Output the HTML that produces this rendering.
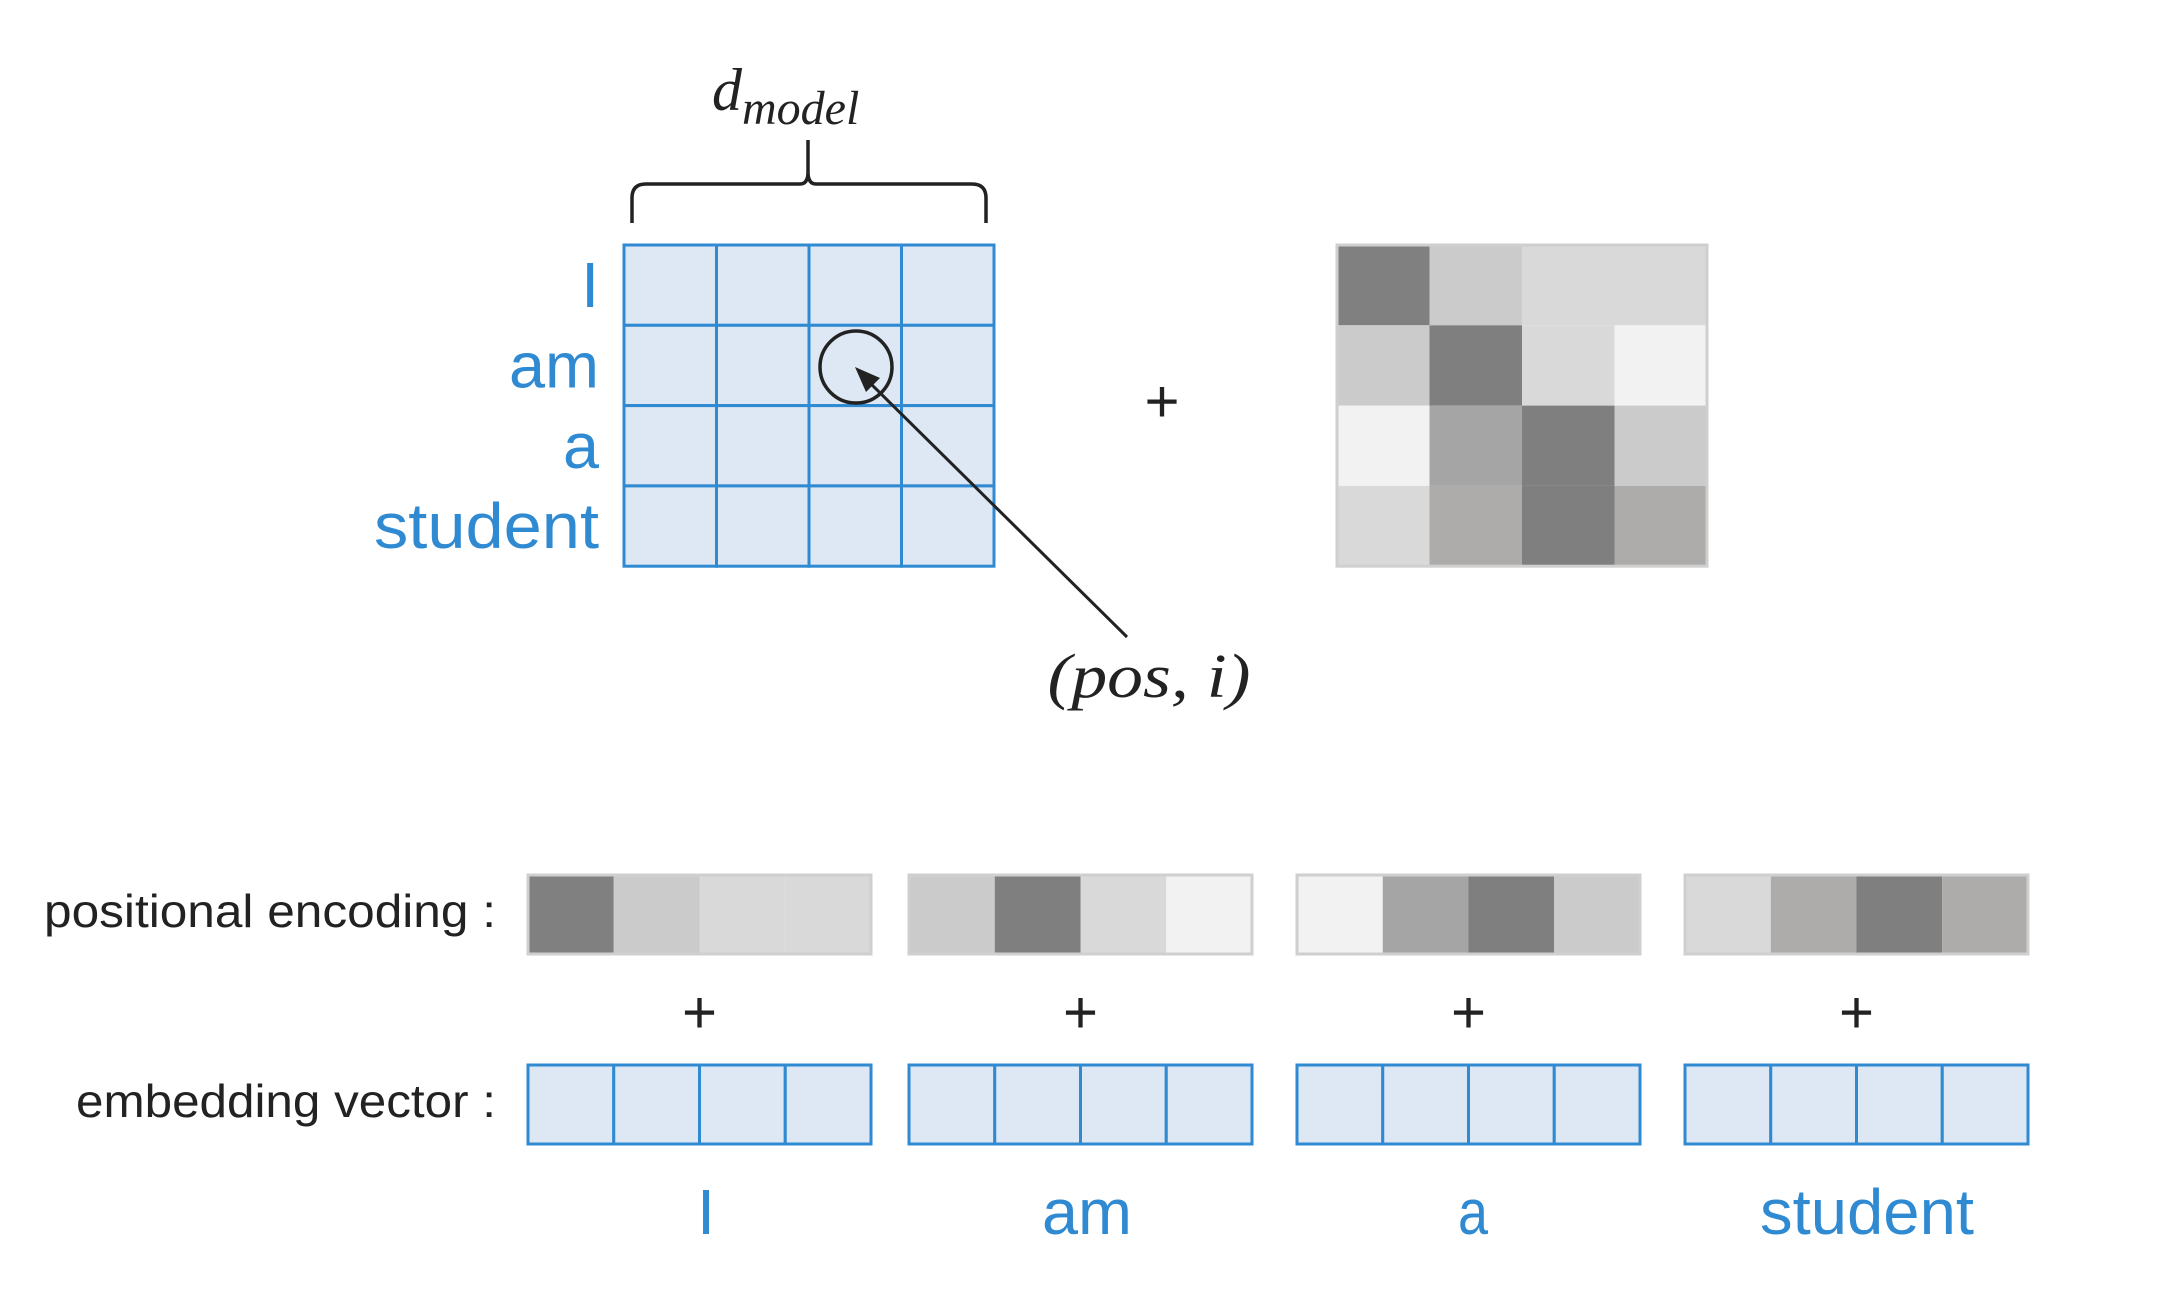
<!DOCTYPE html>
<html><head><meta charset="utf-8"><style>html,body{margin:0;padding:0;background:#fff}svg{display:block}</style></head>
<body>
<svg id="fig" width="2159" height="1296" viewBox="0 0 2159 1296" xmlns="http://www.w3.org/2000/svg">
<rect width="2159" height="1296" fill="#fff"/>
<g id="topSection"></g>
<g id="bottomSection"></g>
</svg>
<script>
const words = ["I","am","a","student"];
const peRow0 = ["#808080","#cccbcc","#d9d9d9","#d9d9d9"];
const peRow1 = ["#cccbcc","#7f7f7f","#d9d9d9","#f2f2f2"];
const peRow2 = ["#f2f2f2","#a5a5a5","#7f7f7f","#cccbcc"];
const peRow3 = ["#d9d9d9","#aeabab","#7f7f7f","#aeabab"];
const peRows = [peRow0, peRow1, peRow2, peRow3];

const NS="http://www.w3.org/2000/svg";
const blue="#2f8ad2", fillC="#dde8f4";
function mk(tag, attrs, parent){const e=document.createElementNS(NS,tag);for(const k in attrs)e.setAttribute(k,attrs[k]);parent.appendChild(e);return e;}
const topG=document.getElementById('topSection'), botG=document.getElementById('bottomSection');

let t=mk('text',{x:712,y:110,'font-family':'Liberation Serif, serif','font-style':'italic','font-size':60,fill:'#222'},topG);


t.innerHTML='d<tspan font-size="48" dy="14">model</tspan>';
let br=mk('path',{d:'M632,223 L632,198 Q632,184 646,184 L800,184 Q808,184 808,172 L808,140 M808,172 Q808,184 816,184 L972,184 Q986,184 986,198 L986,223',fill:'none',stroke:'#222','stroke-width':3.5},topG);



const gx=624, gy=245, cw=92.5, ch=80.3;
const labelW=[0,90,36,225];
words.forEach((w,r)=>{
  for(let c=0;c<4;c++){
    const cell=mk('rect',{x:gx+c*cw,y:gy+r*ch,width:cw,height:ch,fill:fillC,stroke:blue,'stroke-width':3},topG);
    
    
  }
  const at={x:599,y:gy+r*ch+ch/2+22,'text-anchor':'end','font-family':'Liberation Sans, sans-serif','font-size':64,fill:blue};
  if(labelW[r]>0){at.textLength=labelW[r];at.lengthAdjust='spacingAndGlyphs';}
  const lb=mk('text',at,topG);
  
  
  lb.textContent=w;
});
const px=1337;
peRows.forEach((row,r)=>row.forEach((col,c)=>{
  const cell=mk('rect',{x:px+c*cw,y:gy+r*ch,width:cw,height:ch,fill:col},topG);
  
  
}));
let pb=mk('rect',{x:px,y:gy,width:cw*4,height:ch*4,fill:'none',stroke:'#cfcfcf','stroke-width':3},topG);


let pl=mk('text',{x:1162,y:422,'text-anchor':'middle','font-family':'Liberation Sans, sans-serif','font-size':60,fill:'#222'},topG);


pl.textContent='+';
let ci=mk('circle',{cx:856,cy:367,r:36,fill:'none',stroke:'#222','stroke-width':3.5},topG);


let ar=mk('line',{x1:1127,y1:637,x2:866,y2:379,stroke:'#222','stroke-width':3},topG);


let ah=mk('polygon',{points:'855,367 880,378 866,392',fill:'#222'},topG);


let pi=mk('text',{x:1149,y:697,'text-anchor':'middle','font-family':'Liberation Serif, serif','font-style':'italic','font-size':62,fill:'#222',textLength:203,lengthAdjust:'spacingAndGlyphs'},topG);


pi.textContent='(pos, i)';

const bx=[528,909,1297,1685], bw=343, peY=875, peH=79, emY=1065, emH=79;
let l1=mk('text',{x:496,y:927,'text-anchor':'end','font-family':'Liberation Sans, sans-serif','font-size':46,fill:'#222',textLength:452,lengthAdjust:'spacingAndGlyphs'},botG);


l1.textContent='positional encoding :';
let l2=mk('text',{x:496,y:1117,'text-anchor':'end','font-family':'Liberation Sans, sans-serif','font-size':46,fill:'#222',textLength:420,lengthAdjust:'spacingAndGlyphs'},botG);


l2.textContent='embedding vector :';
const wordCx=[706,1087,1473,1867];
const wordW=[0,90,30,214];
words.forEach((w,i)=>{
  const x0=bx[i], c=bw/4;
  peRows[i].forEach((col,k)=>{
    const r=mk('rect',{x:x0+k*c,y:peY,width:c,height:peH,fill:col},botG);
    
    
  });
  const b=mk('rect',{x:x0,y:peY,width:bw,height:peH,fill:'none',stroke:'#cfcfcf','stroke-width':3},botG);
  
  
  for(let k=0;k<4;k++){
    const r=mk('rect',{x:x0+k*c,y:emY,width:c,height:emH,fill:fillC,stroke:blue,'stroke-width':3},botG);
    
    
  }
  const p=mk('text',{x:x0+bw/2,y:1033,'text-anchor':'middle','font-family':'Liberation Sans, sans-serif','font-size':60,fill:'#222'},botG);
  
  
  p.textContent='+';
  const at={x:wordCx[i],y:1234,'text-anchor':'middle','font-family':'Liberation Sans, sans-serif','font-size':64,fill:blue};
  if(wordW[i]>0){at.textLength=wordW[i];at.lengthAdjust='spacingAndGlyphs';}
  const wl=mk('text',at,botG);
  
  
  wl.textContent=w;
});
</script>
</body></html>
